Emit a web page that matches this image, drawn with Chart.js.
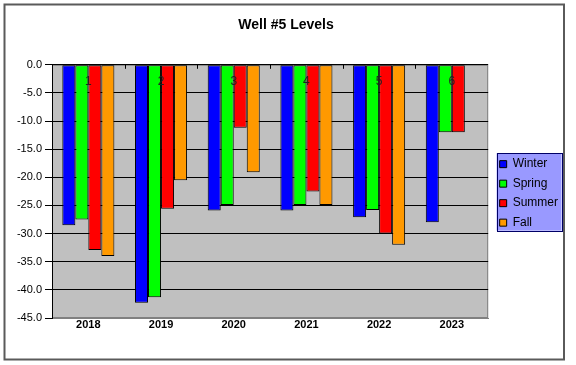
<!DOCTYPE html>
<html>
<head>
<meta charset="utf-8">
<script src="https://cdn.jsdelivr.net/npm/chart.js@4.4.1/dist/chart.umd.min.js"></script>
<style>
  html, body { margin: 0; padding: 0; background: #ffffff; }
  #wrap { width: 576px; height: 365px; }
</style>
</head>
<body>
<div id="wrap"><canvas id="c" width="576" height="365"></canvas></div>
<script>
const years = ['2018', '2019', '2020', '2021', '2022', '2023'];
const topLabels = ['1', '2', '3', '4', '5', '6'];
const winter = [-28.5, -42.3, -25.9, -25.9, -27.1, -28.0];
const spring = [-27.5, -41.3, -24.9, -24.9, -25.8, -12.0];
const summer = [-32.9, -25.6, -11.2, -22.5, -30.0, -12.0];
const fall   = [-34.0, -20.5, -19.1, -24.9, -32.0, null];

const FONT = "Arial, 'Liberation Sans', sans-serif";
Chart.defaults.font.family = FONT;
Chart.defaults.color = '#000';

const framePlugin = {
  id: 'frame',
  afterLayout(chart) {
    const lg = chart.legend;
    if (lg) { lg.left += 4; lg.right += 4; lg.top += 2; lg.bottom += 2; }
  },
  beforeDraw(chart) {
    const ctx = chart.ctx;
    const a = chart.chartArea;
    ctx.save();
    ctx.fillStyle = '#ffffff';
    ctx.fillRect(0, 0, chart.width, chart.height);
    // outer chart border
    ctx.strokeStyle = '#5a5a5a';
    ctx.lineWidth = 2;
    ctx.strokeRect(4.5, 4.5, 559.5, 355);
    // plot area
    ctx.fillStyle = '#c0c0c0';
    ctx.fillRect(a.left, a.top, a.right - a.left, a.bottom - a.top);
    ctx.strokeStyle = '#808080';
    ctx.lineWidth = 1;
    ctx.strokeRect(a.left + 0.5, a.top + 0.5, a.right - a.left - 1, a.bottom - a.top - 1);
    // legend background
    const lg = chart.legend;
    if (lg && lg.legendHitBoxes && lg.legendHitBoxes.length) {
      const hb = lg.legendHitBoxes;
      let r = 0;
      hb.forEach(h => { r = Math.max(r, h.left + h.width); });
      const l = hb[0].left - 3;
      const t = hb[0].top - 5;
      const last = hb[hb.length - 1];
      const b = last.top + last.height + 2;
      const w = r + 3.5 - l;
      ctx.fillStyle = '#9999ff';
      ctx.fillRect(l, t, w, b - t);
      ctx.strokeStyle = '#000066';
      ctx.strokeRect(Math.round(l) + 0.5, Math.round(t) + 0.5, Math.round(w), Math.round(b - t));
    }
    ctx.restore();
  },
  afterDatasetsDraw(chart) {
    const ctx = chart.ctx;
    const a = chart.chartArea;
    const xs = chart.scales.x;
    ctx.save();
    // small category tick marks on the zero line
    ctx.strokeStyle = '#000';
    ctx.lineWidth = 1;
    const half = (xs.getPixelForValue(1) - xs.getPixelForValue(0)) / 2;
    for (let i = 0; i < years.length - 1; i++) {
      const px = Math.round(xs.getPixelForValue(i) + half) + 0.5;
      ctx.beginPath();
      ctx.moveTo(px, a.top);
      ctx.lineTo(px, a.top + 4);
      ctx.stroke();
    }
    // secondary category labels
    ctx.fillStyle = '#222';
    ctx.font = '12px ' + FONT;
    ctx.textAlign = 'center';
    ctx.textBaseline = 'middle';
    topLabels.forEach((t, i) => {
      ctx.fillText(t, xs.getPixelForValue(i), a.top + 17);
    });
    ctx.restore();
  }
};

new Chart(document.getElementById('c'), {
  type: 'bar',
  data: {
    labels: years,
    datasets: [
      { label: 'Winter', data: winter, backgroundColor: '#0000ff' },
      { label: 'Spring', data: spring, backgroundColor: '#00ff00' },
      { label: 'Summer', data: summer, backgroundColor: '#ff0000' },
      { label: 'Fall',   data: fall,   backgroundColor: '#ff9900' }
    ].map(d => Object.assign(d, {
      borderColor: '#000', borderWidth: 1, borderSkipped: false,
      categoryPercentage: 0.716, barPercentage: 1.0
    }))
  },
  options: {
    responsive: false,
    animation: false,
    layout: { padding: { left: 8, right: 12, top: 6, bottom: 10 } },
    plugins: {
      tooltip: { enabled: false },
      title: {
        display: true,
        text: 'Well #5 Levels',
        font: { size: 14, weight: 'bold', family: FONT },
        color: '#000',
        padding: { top: 11, bottom: 31 }
      },
      legend: {
        position: 'right',
        fullSize: false,
        labels: {
          boxWidth: 7, boxHeight: 7, padding: 7.5,
          font: { size: 12, family: FONT },
          color: '#000'
        }
      }
    },
    scales: {
      x: {
        grid: { display: false, drawTicks: false },
        border: { display: true, color: '#808080' },
        ticks: { font: { size: 11, weight: 'bold', family: FONT }, color: '#000', padding: 0, maxRotation: 0 },
        afterFit(s) { s.height = 37; }
      },
      y: {
        min: -45, max: 0,
        ticks: {
          stepSize: 5,
          font: { size: 11, family: FONT }, color: '#000', padding: 3,
          callback: v => Number(v).toFixed(1)
        },
        grid: {
          color: c => (c.tick && c.tick.value === -45) ? '#808080' : '#000',
          tickColor: '#000', tickLength: 7, lineWidth: 1
        },
        border: { display: true, color: '#000' },
        afterFit(s) { s.width = 44; }
      }
    }
  },
  plugins: [framePlugin]
});
</script>
</body>
</html>
